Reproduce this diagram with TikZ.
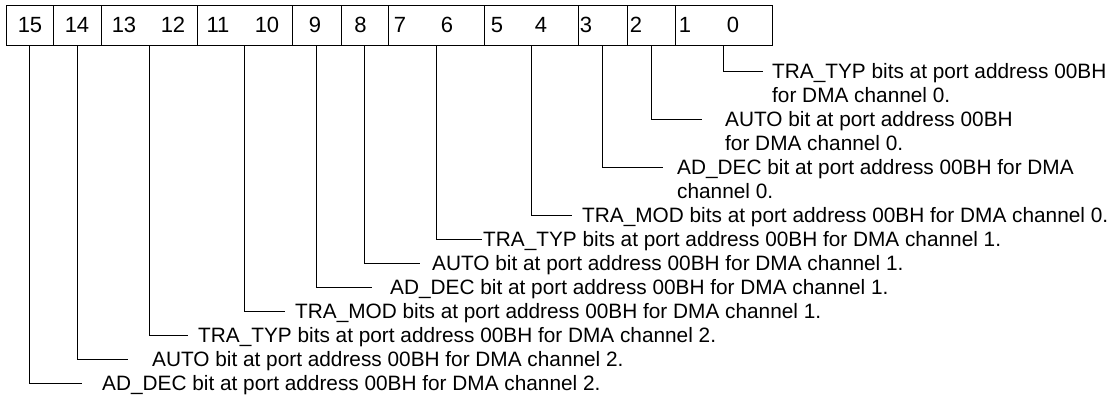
\documentclass[tikz,border=0pt]{standalone}
\usepackage{fontspec}
\setmainfont{Liberation Sans}

\begin{document}
\begin{tikzpicture}[x=1pt,y=1pt,
    field/.style={draw,line width=0.9pt,minimum height=40pt,inner sep=0pt,outer sep=0pt},
    digit/.style={font=\fontsize{22}{24}\selectfont,inner sep=0pt},
    desc/.style={font=\fontsize{20.8}{24}\selectfont,inner sep=0pt,anchor=west,
                 text height=15pt,text depth=0pt},
    lead/.style={line width=0.9pt}]
  \useasboundingbox (0,0) rectangle (1119,-397);

  % Register fields
  \node[field,minimum width=47pt] (f15) at (29.5,-25) {};
  \node[field,minimum width=48pt] (f14) at (77,-25) {};
  \node[field,minimum width=96pt] (f1312) at (149,-25) {};
  \node[field,minimum width=95pt] (f1110) at (244.5,-25) {};
  \node[field,minimum width=49pt] (f9) at (316.5,-25) {};
  \node[field,minimum width=47pt] (f8) at (364.5,-25) {};
  \node[field,minimum width=96pt] (f76) at (436,-25) {};
  \node[field,minimum width=94pt] (f54) at (531,-25) {};
  \node[field,minimum width=49pt] (f3) at (602.5,-25) {};
  \node[field,minimum width=48pt] (f2) at (651,-25) {};
  \node[field,minimum width=97pt] (f10) at (723.5,-25) {};

  % Bit numbers
  \node[digit] (d15) at (30,-25) {15};
  \node[digit] (d14) at (77,-25) {14};
  \node[digit] (d13) at (124,-25) {13};
  \node[digit] (d12) at (173,-25) {12};
  \node[digit] (d11) at (218,-25) {11};
  \node[digit] (d10) at (267,-25) {10};
  \node[digit] (d9) at (315,-25) {9};
  \node[digit] (d8) at (360.5,-25) {8};
  \node[digit] (d7) at (400,-25) {7};
  \node[digit] (d6) at (447,-25) {6};
  \node[digit] (d5) at (497,-25) {5};
  \node[digit] (d4) at (541,-25) {4};
  \node[digit] (d3) at (586,-25) {3};
  \node[digit] (d2) at (636,-25) {2};
  \node[digit] (d1) at (685,-25) {1};
  \node[digit] (d0) at (733,-25) {0};

  % Channel 0
  \node[desc] (l10) at (772,-71) {TRA\_TYP bits at port address 00BH};
  \node[desc] (l10b) at (772,-95) {for DMA channel 0.};
  \node[desc] (l2) at (725,-119) {AUTO bit at port address 00BH};
  \node[desc] (l2b) at (725,-143) {for DMA channel 0.};
  \node[desc] (l3) at (677,-167) {AD\_DEC bit at port address 00BH for DMA};
  \node[desc] (l3b) at (677,-191) {channel 0.};
  \node[desc] (l54) at (582,-215) {TRA\_MOD bits at port address 00BH for DMA channel 0.};

  % Channel 1
  \node[desc] (l76) at (483,-239) {TRA\_TYP bits at port address 00BH for DMA channel 1.};
  \node[desc] (l8) at (432,-263) {AUTO bit at port address 00BH for DMA channel 1.};
  \node[desc] (l9) at (390,-287) {AD\_DEC bit at port address 00BH for DMA channel 1.};
  \node[desc] (l1110) at (295,-311) {TRA\_MOD bits at port address 00BH for DMA channel 1.};

  % Channel 2
  \node[desc] (l1312) at (198,-335) {TRA\_TYP bits at port address 00BH for DMA channel 2.};
  \node[desc] (l14) at (152,-359) {AUTO bit at port address 00BH for DMA channel 2.};
  \node[desc] (l15) at (102,-383) {AD\_DEC bit at port address 00BH for DMA channel 2.};

  % Leader lines
  \draw[lead] (f10.south) |- ([xshift=-9pt]l10.west);
  \draw[lead] (f2.south) |- ([xshift=-23pt]l2.west);
  \draw[lead] (f3.south) |- ([xshift=-14pt]l3.west);
  \draw[lead] (f54.south) |- ([xshift=-10pt]l54.west);
  \draw[lead] (f76.south) |- ([xshift=-1pt]l76.west);
  \draw[lead] (f8.south) |- ([xshift=-12pt]l8.west);
  \draw[lead] (f9.south) |- ([xshift=-18pt]l9.west);
  \draw[lead] (f1110.south) |- ([xshift=-10pt]l1110.west);
  \draw[lead] (f1312.south) |- ([xshift=-10pt]l1312.west);
  \draw[lead] (f14.south) |- ([xshift=-24pt]l14.west);
  \draw[lead] (f15.south) |- ([xshift=-20pt]l15.west);
\end{tikzpicture}
\end{document}
